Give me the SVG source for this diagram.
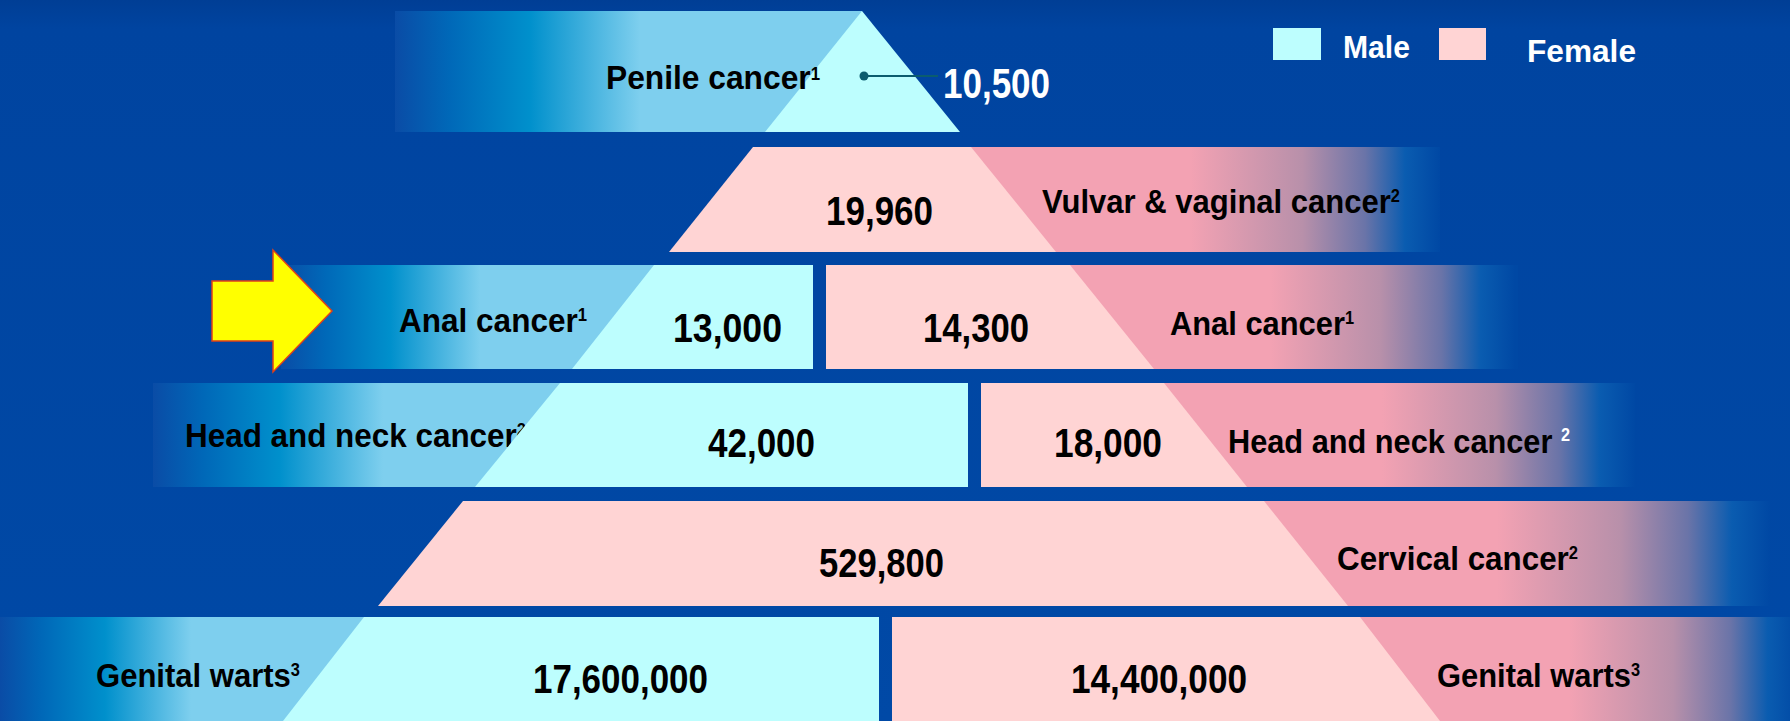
<svg xmlns="http://www.w3.org/2000/svg" width="1790" height="721" viewBox="0 0 1790 721">
<defs>
<linearGradient id="bg" x1="0" y1="0" x2="0" y2="1">
<stop offset="0" stop-color="#003e95"/><stop offset="0.04" stop-color="#0044a0"/><stop offset="1" stop-color="#0049a6"/>
</linearGradient>
<linearGradient id="mg" gradientUnits="userSpaceOnUse" x1="395" y1="0" x2="640" y2="0">
<stop offset="0" stop-color="#0a4ca6"/><stop offset="0.22" stop-color="#0068b8"/><stop offset="0.55" stop-color="#0090cc"/><stop offset="1" stop-color="#7ecfee"/>
</linearGradient>
<linearGradient id="mg3" href="#mg" x1="281" x2="480"/>
<linearGradient id="mg4" href="#mg" x1="153" x2="383"/>
<linearGradient id="mg6" href="#mg" x1="0" x2="191"/>
<linearGradient id="fg" gradientUnits="userSpaceOnUse" x1="1190" y1="0" x2="1440" y2="0">
<stop offset="0" stop-color="#f3a2b3"/><stop offset="0.45" stop-color="#b890aa"/><stop offset="0.7" stop-color="#6a74a8"/><stop offset="0.86" stop-color="#0a5cb0"/><stop offset="1" stop-color="#0048a4"/>
</linearGradient>
<linearGradient id="fg3" href="#fg" x1="1270" x2="1515"/>
<linearGradient id="fg4" href="#fg" x1="1382" x2="1635"/>
<linearGradient id="fg5" href="#fg" x1="1497" x2="1770"/>
<linearGradient id="fg6" href="#fg" x1="1569" x2="1800"/>
<style>
.cy{fill:#bdfefe}
.pk{fill:#ffd4d4}
.lbl{font-family:"Liberation Sans",Arial,sans-serif;font-weight:bold;font-size:34px;fill:#000}
.num{font-family:"Liberation Sans",Arial,sans-serif;font-weight:bold;font-size:40px;fill:#000}
.wnum{font-family:"Liberation Sans",Arial,sans-serif;font-weight:bold;font-size:42px;fill:#fff}
.leg{font-family:"Liberation Sans",Arial,sans-serif;font-weight:bold;font-size:32px;fill:#fff}
.sup{font-size:18px}
</style>
</defs>
<rect x="0" y="0" width="1790" height="721" fill="url(#bg)"/>

<g id="legend">
<rect x="1273" y="28" width="48" height="32" class="cy"/>
<text x="1343" y="58" class="leg" textLength="67" lengthAdjust="spacingAndGlyphs">Male</text>
<rect x="1439" y="28" width="47" height="32" class="pk"/>
<text x="1527" y="62" class="leg" textLength="109" lengthAdjust="spacingAndGlyphs">Female</text>
</g>

<g id="penile-male">
<rect x="395" y="11" width="467" height="121" fill="url(#mg)"/>
<polygon points="862,11 960,132 765,132" class="cy"/>
<text x="606" y="89" class="lbl" textLength="214" lengthAdjust="spacingAndGlyphs">Penile cancer<tspan class="sup" dy="-9">1</tspan></text>
<text x="943" y="98" class="wnum" textLength="107" lengthAdjust="spacingAndGlyphs">10,500</text>
</g>

<g id="vulvar-female">
<rect x="900" y="147" width="540" height="105" fill="url(#fg)"/>
<polygon points="753,147 971,147 1056,252 669,252" class="pk"/>
<text x="826" y="225" class="num" textLength="107" lengthAdjust="spacingAndGlyphs">19,960</text>
<text x="1042" y="213" class="lbl" textLength="358" lengthAdjust="spacingAndGlyphs">Vulvar &amp; vaginal cancer<tspan class="sup" dy="-11">2</tspan></text>
</g>

<g id="anal-male">
<rect x="281" y="265" width="532" height="104" fill="url(#mg3)"/>
<polygon points="654,265 813,265 813,369 572,369" class="cy"/>
<text x="399" y="332" class="lbl" textLength="188" lengthAdjust="spacingAndGlyphs">Anal cancer<tspan class="sup" dy="-11">1</tspan></text>
<text x="673" y="342" class="num" textLength="109" lengthAdjust="spacingAndGlyphs">13,000</text>
</g>

<g id="anal-female">
<rect x="826" y="265" width="692" height="104" fill="url(#fg3)"/>
<polygon points="826,265 1070,265 1154,369 826,369" class="pk"/>
<text x="923" y="342" class="num" textLength="106" lengthAdjust="spacingAndGlyphs">14,300</text>
<text x="1170" y="335" class="lbl" textLength="184" lengthAdjust="spacingAndGlyphs">Anal cancer<tspan class="sup" dy="-11">1</tspan></text>
</g>

<g id="headneck-male">
<rect x="153" y="383" width="815" height="104" fill="url(#mg4)"/>
<text x="185" y="447" class="lbl" textLength="341" lengthAdjust="spacingAndGlyphs">Head and neck cancer<tspan class="sup" dy="-11">2</tspan></text>
<polygon points="560,383 968,383 968,487 475,487" class="cy"/>
<text x="708" y="457" class="num" textLength="107" lengthAdjust="spacingAndGlyphs">42,000</text>
</g>

<g id="headneck-female">
<rect x="981" y="383" width="654" height="104" fill="url(#fg4)"/>
<polygon points="981,383 1164,383 1247,487 981,487" class="pk"/>
<text x="1054" y="457" class="num" textLength="108" lengthAdjust="spacingAndGlyphs">18,000</text>
<text x="1228" y="453" class="lbl" textLength="342" lengthAdjust="spacingAndGlyphs">Head and neck cancer <tspan class="sup" dy="-12" fill="#fff">2</tspan></text>
</g>

<g id="cervical-female">
<rect x="1000" y="501" width="770" height="105" fill="url(#fg5)"/>
<polygon points="463,501 1264,501 1348,606 378,606" class="pk"/>
<text x="819" y="577" class="num" textLength="125" lengthAdjust="spacingAndGlyphs">529,800</text>
<text x="1337" y="570" class="lbl" textLength="241" lengthAdjust="spacingAndGlyphs">Cervical cancer<tspan class="sup" dy="-11">2</tspan></text>
</g>

<g id="warts-male">
<rect x="0" y="617" width="879" height="104" fill="url(#mg6)"/>
<polygon points="364,617 879,617 879,721 283,721" class="cy"/>
<text x="96" y="687" class="lbl" textLength="204" lengthAdjust="spacingAndGlyphs">Genital warts<tspan class="sup" dy="-11">3</tspan></text>
<text x="533" y="693" class="num" textLength="175" lengthAdjust="spacingAndGlyphs">17,600,000</text>
</g>

<g id="warts-female">
<rect x="892" y="617" width="898" height="104" fill="url(#fg6)"/>
<polygon points="892,617 1360,617 1440,721 892,721" class="pk"/>
<text x="1071" y="693" class="num" textLength="176" lengthAdjust="spacingAndGlyphs">14,400,000</text>
<text x="1437" y="687" class="lbl" textLength="203" lengthAdjust="spacingAndGlyphs">Genital warts<tspan class="sup" dy="-11">3</tspan></text>
</g>

<g id="arrow">
<polygon points="212,281 273,281 273,250 332,311 273,372 273,341 212,341" fill="#ffff00" stroke="#e0401a" stroke-width="1.5"/>
</g>

<g id="connectors">
<line x1="864" y1="76" x2="938" y2="76" stroke="#0b5c6e" stroke-width="2"/>
<circle cx="864" cy="76" r="4.5" fill="#0b5c6e"/>
</g>
</svg>
